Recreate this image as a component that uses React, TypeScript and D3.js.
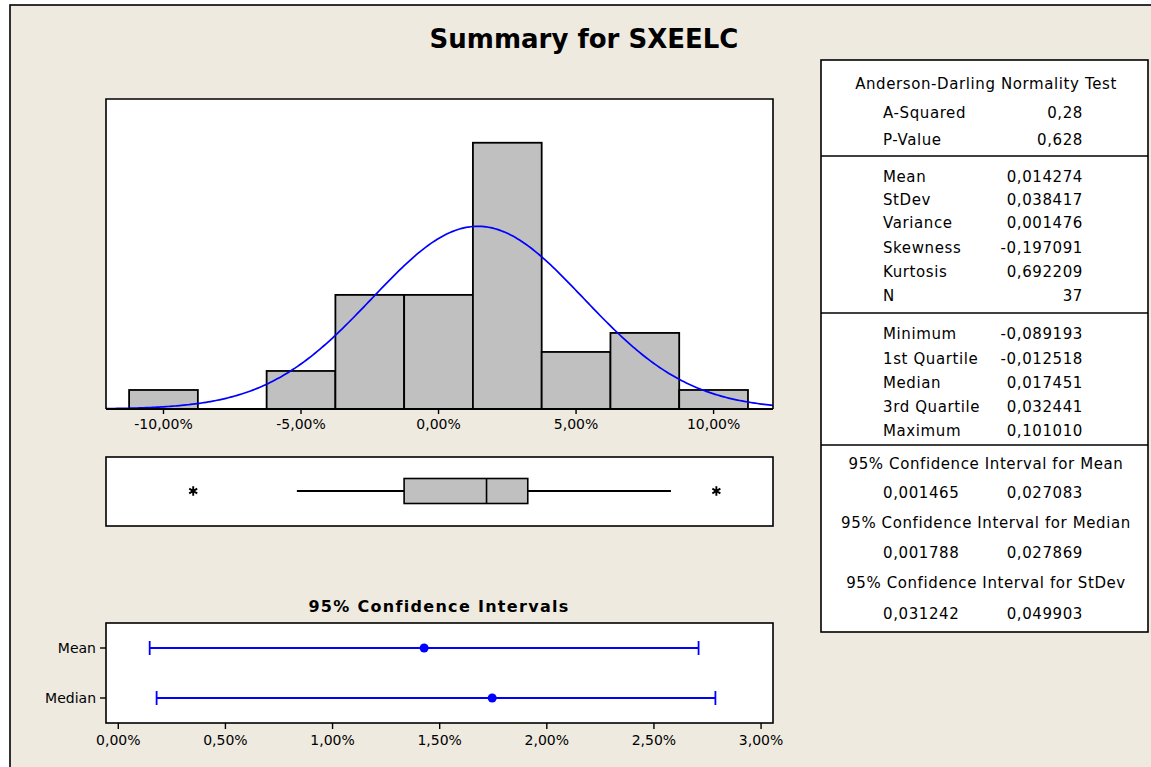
import React from "react";
import * as d3 from "d3";

// ---------- data ----------
const TITLE = "Summary for SXEELC";
const BIN_CENTERS = [-0.1, -0.075, -0.05, -0.025, 0, 0.025, 0.05, 0.075, 0.1];
const BIN_COUNTS = [1, 0, 2, 6, 6, 14, 3, 4, 1];
const BIN_WIDTH = 0.025;
const HIST_TICKS = [-0.1, -0.05, 0, 0.05, 0.1];
const HIST_TICK_LABELS = ["-10,00%", "-5,00%", "0,00%", "5,00%", "10,00%"];

const MEAN = 0.014274;
const STDEV = 0.038417;
const N = 37;

const BOX_Q1 = -0.012518;
const BOX_MEDIAN = 0.017451;
const BOX_Q3 = 0.032441;
const WHISKER_LOW = -0.0515;
const WHISKER_HIGH = 0.0845;
const OUTLIERS = [-0.089193, 0.10101];

const CI_LABELS = ["Mean", "Median"];
const CI_LOW = [0.001465, 0.001788];
const CI_POINT = [0.014274, 0.017451];
const CI_HIGH = [0.027083, 0.027869];
const CI_TICKS = [0, 0.005, 0.01, 0.015, 0.02, 0.025, 0.03];
const CI_TICK_LABELS = ["0,00%", "0,50%", "1,00%", "1,50%", "2,00%", "2,50%", "3,00%"];

const AD_ROWS: [string, string][] = [
  ["A-Squared", "0,28"],
  ["P-Value", "0,628"],
];
const MOMENT_ROWS: [string, string][] = [
  ["Mean", "0,014274"],
  ["StDev", "0,038417"],
  ["Variance", "0,001476"],
  ["Skewness", "-0,197091"],
  ["Kurtosis", "0,692209"],
  ["N", "37"],
];
const QUANTILE_ROWS: [string, string][] = [
  ["Minimum", "-0,089193"],
  ["1st Quartile", "-0,012518"],
  ["Median", "0,017451"],
  ["3rd Quartile", "0,032441"],
  ["Maximum", "0,101010"],
];
const CI_TABLE: [string, string, string][] = [
  ["95% Confidence Interval for Mean", "0,001465", "0,027083"],
  ["95% Confidence Interval for Median", "0,001788", "0,027869"],
  ["95% Confidence Interval for StDev", "0,031242", "0,049903"],
];

// ---------- layout ----------
const W = 1151;
const H = 767;
const BG = "#EEEAE0";
const FONT = "'DejaVu Sans', Verdana, sans-serif";
const PLOT_L = 106;
const PLOT_R = 773;
const HIST_T = 99;
const HIST_B = 409;

export default function App() {
  const x = d3.scaleLinear().domain([-0.1209, 0.1216]).range([PLOT_L, PLOT_R]);
  const y = d3.scaleLinear().domain([0, 16.3]).range([HIST_B, HIST_T]);

  const pdf = (v: number) =>
    (N * BIN_WIDTH * Math.exp(-0.5 * ((v - MEAN) / STDEV) ** 2)) /
    (STDEV * Math.sqrt(2 * Math.PI));
  const xs = d3.range(0, 301).map((i) => x.domain()[0] + (i / 300) * (x.domain()[1] - x.domain()[0]));
  const curve = d3
    .line<number>()
    .x((v) => x(v))
    .y((v) => y(pdf(v)))(xs) as string;

  const boxY = 491;
  const boxHalf = 12.5;

  const xc = d3.scaleLinear().domain([-0.000574, 0.030557]).range([PLOT_L, PLOT_R]);
  const yc = d3.scalePoint<string>().domain(CI_LABELS).range([623, 723]).padding(0.5);

  const star = d3.symbol().type(d3.symbolAsterisk).size(60)() as string;

  // table
  const TL = 821, TR = 1148, TT = 60, TB = 632;
  const tCenter = 986;
  const labX = 883;
  const valX = 1083;
  const adY = [113, 140];
  const momY = [177, 200, 223, 248, 272, 296];
  const qY = [334, 359, 383, 407, 431];
  const ciTitleY = [464, 523, 583];
  const ciValY = [493, 553, 614];
  const tStyle = { fontFamily: FONT, fontSize: 15, letterSpacing: 0.6 } as React.CSSProperties;

  return (
    <svg
      width={W}
      height={H}
      style={{ position: "absolute", left: 0, top: 0, display: "block", background: "#fff" }}
    >
      <rect x={10} y={5} width={W + 20} height={H + 20} fill={BG} stroke="#000" strokeWidth={1.6} />

      <text x={584} y={48} textAnchor="middle" fontFamily={FONT} fontWeight="bold" fontSize={26}>
        {TITLE}
      </text>

      {/* Histogram */}
      <rect x={PLOT_L} y={HIST_T} width={PLOT_R - PLOT_L} height={HIST_B - HIST_T} fill="#fff" />
      <clipPath id="histclip">
        <rect x={PLOT_L} y={HIST_T} width={PLOT_R - PLOT_L} height={HIST_B - HIST_T} />
      </clipPath>
      {BIN_CENTERS.map((c, i) =>
        BIN_COUNTS[i] > 0 ? (
          <rect
            key={i}
            x={x(c - BIN_WIDTH / 2)}
            y={y(BIN_COUNTS[i])}
            width={x(c + BIN_WIDTH / 2) - x(c - BIN_WIDTH / 2)}
            height={y(0) - y(BIN_COUNTS[i])}
            fill="#C0C0C0"
            stroke="#000"
            strokeWidth={1.8}
          />
        ) : null
      )}
      <path d={curve} fill="none" stroke="#0000FF" strokeWidth={1.7} clipPath="url(#histclip)" />
      <path
        d={`M${PLOT_L},${HIST_B}V${HIST_T}H${PLOT_R}V${HIST_B}`}
        fill="none"
        stroke="#000"
        strokeWidth={1.6}
      />
      <line x1={PLOT_L} x2={PLOT_R} y1={HIST_B} y2={HIST_B} stroke="#000" strokeWidth={1.8} />
      {HIST_TICKS.map((t, i) => (
        <g key={i}>
          <line x1={x(t)} x2={x(t)} y1={HIST_B} y2={HIST_B + 5} stroke="#000" strokeWidth={1.4} />
          <text x={x(t)} y={429} textAnchor="middle" fontFamily={FONT} fontSize={14}>
            {HIST_TICK_LABELS[i]}
          </text>
        </g>
      ))}

      {/* Boxplot */}
      <rect x={PLOT_L} y={457} width={PLOT_R - PLOT_L} height={69} fill="#fff" stroke="#000" strokeWidth={1.6} />
      <line x1={x(WHISKER_LOW)} x2={x(BOX_Q1)} y1={boxY} y2={boxY} stroke="#000" strokeWidth={1.8} />
      <line x1={x(BOX_Q3)} x2={x(WHISKER_HIGH)} y1={boxY} y2={boxY} stroke="#000" strokeWidth={1.8} />
      <rect
        x={x(BOX_Q1)}
        y={boxY - boxHalf}
        width={x(BOX_Q3) - x(BOX_Q1)}
        height={boxHalf * 2}
        fill="#C0C0C0"
        stroke="#000"
        strokeWidth={1.6}
      />
      <line x1={x(BOX_MEDIAN)} x2={x(BOX_MEDIAN)} y1={boxY - boxHalf} y2={boxY + boxHalf} stroke="#000" strokeWidth={1.6} />
      {OUTLIERS.map((o, i) => (
        <path key={i} d={star} transform={`translate(${x(o)},${boxY})`} stroke="#000" strokeWidth={1.9} fill="none" />
      ))}

      {/* CI panel */}
      <text x={439} y={612} textAnchor="middle" fontFamily={FONT} fontWeight="bold" fontSize={16} letterSpacing={1.3}>
        95% Confidence Intervals
      </text>
      <rect x={PLOT_L} y={623} width={PLOT_R - PLOT_L} height={100} fill="#fff" stroke="#000" strokeWidth={1.6} />
      {CI_LABELS.map((lab, i) => {
        const yy = yc(lab) as number;
        return (
          <g key={lab}>
            <line x1={100} x2={PLOT_L} y1={yy} y2={yy} stroke="#000" strokeWidth={1.4} />
            <text x={96} y={yy} dominantBaseline="central" textAnchor="end" fontFamily={FONT} fontSize={14}>
              {lab}
            </text>
            <line x1={xc(CI_LOW[i])} x2={xc(CI_HIGH[i])} y1={yy} y2={yy} stroke="#0000FF" strokeWidth={1.8} />
            <line x1={xc(CI_LOW[i])} x2={xc(CI_LOW[i])} y1={yy - 7} y2={yy + 7} stroke="#0000FF" strokeWidth={1.8} />
            <line x1={xc(CI_HIGH[i])} x2={xc(CI_HIGH[i])} y1={yy - 7} y2={yy + 7} stroke="#0000FF" strokeWidth={1.8} />
            <circle cx={xc(CI_POINT[i])} cy={yy} r={4.5} fill="#0000FF" />
          </g>
        );
      })}
      {CI_TICKS.map((t, i) => (
        <g key={i}>
          <line x1={xc(t)} x2={xc(t)} y1={723} y2={729} stroke="#000" strokeWidth={1.4} />
          <text x={xc(t)} y={745} textAnchor="middle" fontFamily={FONT} fontSize={14}>
            {CI_TICK_LABELS[i]}
          </text>
        </g>
      ))}

      {/* Stats table */}
      <rect x={TL} y={TT} width={TR - TL} height={TB - TT} fill="#fff" stroke="#000" strokeWidth={1.6} />
      {[156, 313, 445].map((ly) => (
        <line key={ly} x1={TL} x2={TR} y1={ly} y2={ly} stroke="#000" strokeWidth={1.6} />
      ))}
      <text x={tCenter} y={84} dominantBaseline="central" textAnchor="middle" style={tStyle}>
        Anderson-Darling Normality Test
      </text>
      {AD_ROWS.map((r, i) => (
        <g key={r[0]}>
          <text x={labX} y={adY[i]} dominantBaseline="central" style={tStyle}>{r[0]}</text>
          <text x={valX} y={adY[i]} dominantBaseline="central" textAnchor="end" style={tStyle}>{r[1]}</text>
        </g>
      ))}
      {MOMENT_ROWS.map((r, i) => (
        <g key={r[0]}>
          <text x={labX} y={momY[i]} dominantBaseline="central" style={tStyle}>{r[0]}</text>
          <text x={valX} y={momY[i]} dominantBaseline="central" textAnchor="end" style={tStyle}>{r[1]}</text>
        </g>
      ))}
      {QUANTILE_ROWS.map((r, i) => (
        <g key={r[0]}>
          <text x={labX} y={qY[i]} dominantBaseline="central" style={tStyle}>{r[0]}</text>
          <text x={valX} y={qY[i]} dominantBaseline="central" textAnchor="end" style={tStyle}>{r[1]}</text>
        </g>
      ))}
      {CI_TABLE.map((r, i) => (
        <g key={r[0]}>
          <text x={tCenter} y={ciTitleY[i]} dominantBaseline="central" textAnchor="middle" style={tStyle}>{r[0]}</text>
          <text x={labX} y={ciValY[i]} dominantBaseline="central" style={tStyle}>{r[1]}</text>
          <text x={valX} y={ciValY[i]} dominantBaseline="central" textAnchor="end" style={tStyle}>{r[2]}</text>
        </g>
      ))}
    </svg>
  );
}
